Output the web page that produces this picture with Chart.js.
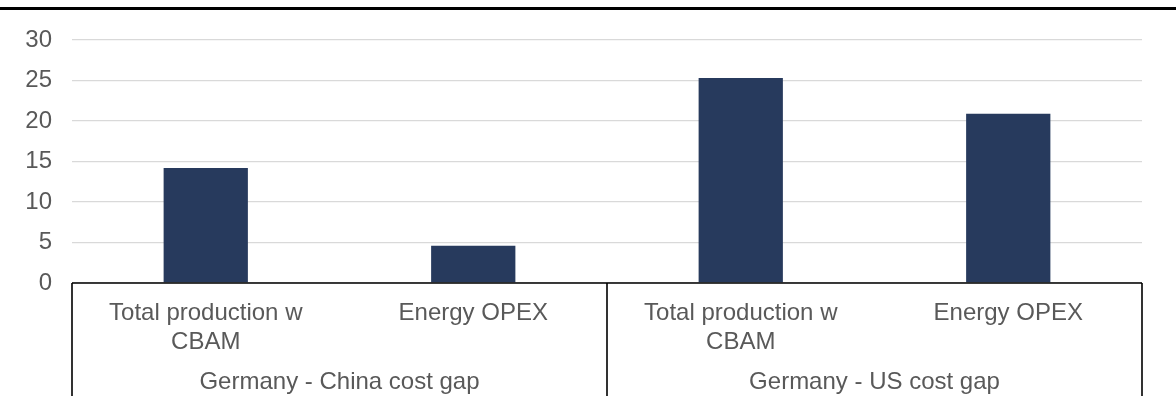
<!DOCTYPE html>
<html>
<head>
<meta charset="utf-8">
<script src="https://cdn.jsdelivr.net/npm/chart.js@4.4.1/dist/chart.umd.min.js"></script>
<style>
  html, body { margin: 0; padding: 0; background: #ffffff; }
  #wrap { position: relative; width: 1176px; height: 396px; }
</style>
</head>
<body>
<div id="wrap"><canvas id="c" width="1176" height="396"></canvas></div>
<script>
// Cost gap categories, grouped by country pair
const categories = [
  ['Total production w', 'CBAM'],
  'Energy OPEX',
  ['Total production w', 'CBAM'],
  'Energy OPEX'
];
const groups = ['Germany - China cost gap', 'Germany - US cost gap'];
const groupSize = 2;
const gapValues = [14.2, 4.6, 25.3, 20.9];
const yTicks = { min: 0, max: 30, step: 5 };

const FONT = '"Liberation Sans", Arial, sans-serif';
const FONT_SIZE = 24;
const TEXT = '#595959';

// Rule across the top, the box under the axis and the group captions
const groupAxis = {
  id: 'groupAxis',
  beforeDraw(chart) {
    const ctx = chart.ctx;
    ctx.save();
    ctx.fillStyle = '#000000';
    ctx.fillRect(0, 7, chart.width, 3);
    ctx.restore();
  },
  afterDatasetsDraw(chart) {
    const ctx = chart.ctx;
    const x = chart.scales.x;
    const area = chart.chartArea;
    const step = x.getPixelForValue(1) - x.getPixelForValue(0);
    const edge = i => x.getPixelForValue(i) - step / 2;
    const bottom = chart.height;
    ctx.save();
    ctx.strokeStyle = '#000000';
    ctx.lineWidth = 1.6;
    ctx.beginPath();
    ctx.moveTo(edge(0), area.bottom);
    ctx.lineTo(edge(categories.length), area.bottom);
    for (let g = 0; g <= groups.length; g++) {
      const px = edge(g * groupSize);
      ctx.moveTo(px, area.bottom);
      ctx.lineTo(px, bottom);
    }
    ctx.stroke();

    ctx.fillStyle = TEXT;
    ctx.font = FONT_SIZE + 'px ' + FONT;
    ctx.textAlign = 'center';
    ctx.textBaseline = 'alphabetic';
    groups.forEach((name, g) => {
      const cx = (edge(g * groupSize) + edge((g + 1) * groupSize)) / 2;
      ctx.fillText(name, cx, 389);
    });
    ctx.restore();
  }
};

new Chart(document.getElementById('c'), {
  type: 'bar',
  data: {
    labels: categories,
    datasets: [{
      data: gapValues,
      backgroundColor: '#273a5d',
      borderWidth: 0,
      categoryPercentage: 1,
      barPercentage: 0.315
    }]
  },
  options: {
    responsive: false,
    animation: false,
    layout: { padding: { left: 0, right: 34, top: 40, bottom: 0 } },
    plugins: { legend: { display: false }, tooltip: { enabled: false } },
    scales: {
      x: {
        grid: { display: false, drawTicks: false },
        border: { display: false },
        ticks: {
          color: TEXT,
          font: { family: FONT, size: FONT_SIZE, lineHeight: 1.2 },
          padding: 16,
          maxRotation: 0,
          autoSkip: false
        },
        afterFit(scale) { scale.height = 113; }
      },
      y: {
        min: yTicks.min,
        max: yTicks.max,
        grid: { color: '#d9d9d9', lineWidth: 1.3, drawTicks: false },
        border: { display: false },
        ticks: {
          stepSize: yTicks.step,
          color: TEXT,
          font: { family: FONT, size: FONT_SIZE },
          padding: 20
        },
        afterFit(scale) { scale.width = 72; }
      }
    }
  },
  plugins: [groupAxis]
});
</script>
</body>
</html>
